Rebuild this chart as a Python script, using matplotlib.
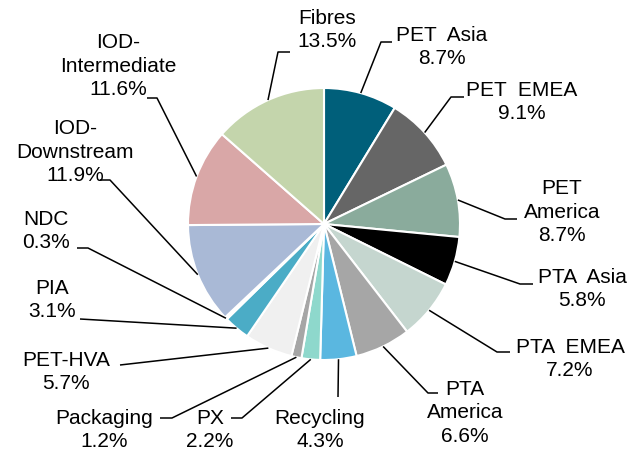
import numpy as np
import matplotlib
matplotlib.use("Agg")
import matplotlib.pyplot as plt

plt.rcParams['font.family'] = ['Liberation Sans', 'DejaVu Sans']

##data
labels = ["PET  Asia", "PET  EMEA", "PET\nAmerica", "PTA  Asia", "PTA  EMEA",
          "PTA\nAmerica", "Recycling", "PX", "Packaging", "PET-HVA", "PIA", "NDC",
          "IOD-\nDownstream", "IOD-\nIntermediate", "Fibres"]
shares = [8.7, 9.1, 8.7, 5.8, 7.2, 6.6, 4.3, 2.2, 1.2, 5.7, 3.1, 0.3, 11.9, 11.6, 13.5]
colors = ["#005f7a", "#666666", "#8aab9c", "#000000", "#c5d6cf", "#a6a6a6", "#5ab7e0",
          "#8ed8cc", "#a6a6a6", "#f0f0f0", "#4bacc6", "#ffffff", "#a9b9d6", "#d9a7a7",
          "#c4d5ac"]

##label layout in pixels (top-left origin): text centre, elbow, stub end
text_pos = [(442, 47), (522, 102), (562, 212), (582, 289), (570, 359), (465, 413),
            (320, 430), (210, 430), (104, 430), (66, 372), (52, 300), (46, 231),
            (75, 152), (118, 66), (327, 30)]
elbow = [(381, 42), (451, 97), (505, 219), (520, 284), (497, 352), (428, 393),
         (338, 397), (242, 418), (172, 418), (120, 365), (80, 319), (88, 248),
         (110, 180), (157, 98), (278, 52)]
stub = [(392, 42), (464, 97), (517, 219), (533, 284), (510, 352), (438, 393),
        (338, 397), (231, 418), (160, 418), (120, 365), (80, 319), (77, 248),
        (100, 180), (147, 98), (290, 52)]

W, H = 632, 455
cx, cy, r = 324, H - 224, 136

fig = plt.figure(figsize=(W / 100, H / 100), dpi=100)
ax = fig.add_axes([0, 0, 1, 1])

wedges, _ = ax.pie(shares, colors=colors, startangle=90, counterclock=False,
                   center=(cx, cy), radius=r,
                   wedgeprops=dict(edgecolor="white", linewidth=1.5))

for w, lab, val, tp, el, st in zip(wedges, labels, shares, text_pos, elbow, stub):
    ang = np.deg2rad((w.theta1 + w.theta2) / 2)
    x0 = cx + r * np.cos(ang)
    y0 = cy + r * np.sin(ang)
    ax.plot([x0, el[0], st[0]], [y0, H - el[1], H - st[1]], color="black", lw=1.1,
            solid_capstyle="butt")
    ax.text(tp[0], H - tp[1], lab + "\n" + "%.1f%%" % val, ha="center", va="center",
            multialignment="center", fontsize=15, linespacing=1.27, color="black")

ax.set_xlim(0, W)
ax.set_ylim(0, H)
ax.set_aspect("equal")
ax.axis("off")

fig.savefig("out.png", dpi=100)
